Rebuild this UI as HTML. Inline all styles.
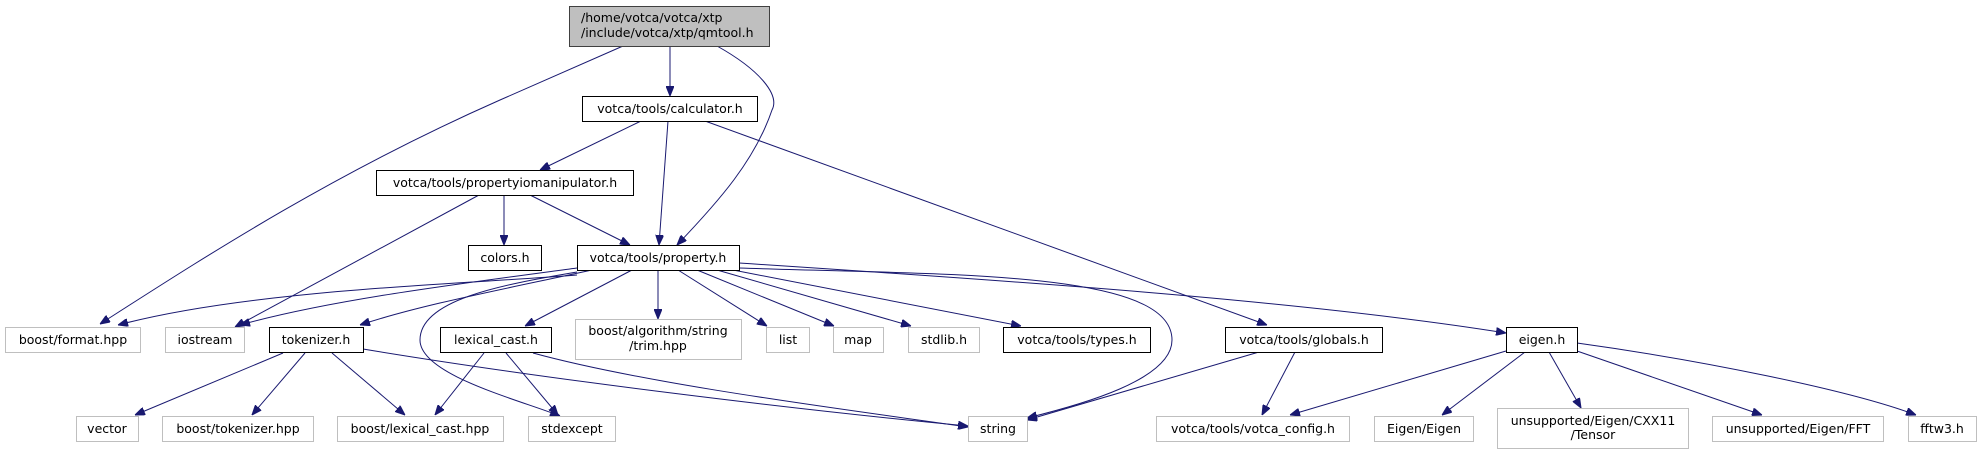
<!DOCTYPE html>
<html><head><meta charset="utf-8"><style>
html,body{margin:0;padding:0;background:#fff;}
svg{display:block;}
text{font-family:"DejaVu Sans","Liberation Sans",sans-serif;font-size:12.5px;fill:#000;text-anchor:middle;}
.e{fill:none;stroke:#191970;stroke-width:1;}
.b{fill:#fff;stroke:#000;stroke-width:1;}
.g{fill:#fff;stroke:#bfbfbf;stroke-width:1;}
</style></head><body>
<svg width="1981" height="455" viewBox="0 0 1981 455" xmlns="http://www.w3.org/2000/svg">
<defs><marker id="a" viewBox="0 0 10 8" refX="10" refY="4" markerWidth="10" markerHeight="8" markerUnits="userSpaceOnUse" orient="auto"><path d="M0,0 L10,4 L0,8 z" fill="#191970" stroke="#191970"/></marker></defs>
<g>
<path class="e" marker-end="url(#a)" d="M623,46 L500,100 C330,175 200,260 100,324"/>
<path class="e" marker-end="url(#a)" d="M670,46 L670,96"/>
<path class="e" marker-end="url(#a)" d="M717,46 C760,70 780,95 772,110 C755,160 720,200 677,245"/>
<path class="e" marker-end="url(#a)" d="M641,121 L540,170"/>
<path class="e" marker-end="url(#a)" d="M668,121 L659,245"/>
<path class="e" marker-end="url(#a)" d="M705,121 L1267,325"/>
<path class="e" marker-end="url(#a)" d="M479,195 L235,327"/>
<path class="e" marker-end="url(#a)" d="M504,195 L504,245"/>
<path class="e" marker-end="url(#a)" d="M530,195 L630,245"/>
<path class="e" marker-end="url(#a)" d="M577,275 C450,285 250,290 118,325"/>
<path class="e" marker-end="url(#a)" d="M577,268 C450,285 330,300 240,325"/>
<path class="e" marker-end="url(#a)" d="M592,270 C500,290 420,305 360,325"/>
<path class="e" marker-end="url(#a)" d="M632,270 L525,326"/>
<path class="e" marker-end="url(#a)" d="M658,270 L658,319"/>
<path class="e" marker-end="url(#a)" d="M678,270 L767,326"/>
<path class="e" marker-end="url(#a)" d="M697,270 L834,326"/>
<path class="e" marker-end="url(#a)" d="M717,270 L911,326"/>
<path class="e" marker-end="url(#a)" d="M733,270 L1021,326"/>
<path class="e" marker-end="url(#a)" d="M739,263 C1000,280 1300,300 1506,333"/>
<path class="e" marker-end="url(#a)" d="M739,268 C950,275 1172,270 1172,340 C1172,380 1080,405 1027,418"/>
<path class="e" marker-end="url(#a)" d="M577,272 C500,285 420,300 420,340 C420,375 520,400 560,416"/>
<path class="e" marker-end="url(#a)" d="M283,353 L135,415"/>
<path class="e" marker-end="url(#a)" d="M305,353 L252,415"/>
<path class="e" marker-end="url(#a)" d="M332,353 L405,415"/>
<path class="e" marker-end="url(#a)" d="M363,349 C550,380 800,410 968,426"/>
<path class="e" marker-end="url(#a)" d="M484,353 L435,415"/>
<path class="e" marker-end="url(#a)" d="M506,353 L558,415"/>
<path class="e" marker-end="url(#a)" d="M533,353 C650,385 850,410 968,427"/>
<path class="e" marker-end="url(#a)" d="M1259,352 L1027,420"/>
<path class="e" marker-end="url(#a)" d="M1295,352 L1262,415"/>
<path class="e" marker-end="url(#a)" d="M1506,351 L1290,415"/>
<path class="e" marker-end="url(#a)" d="M1525,352 L1442,415"/>
<path class="e" marker-end="url(#a)" d="M1549,352 L1581,408"/>
<path class="e" marker-end="url(#a)" d="M1577,351 L1762,415"/>
<path class="e" marker-end="url(#a)" d="M1577,343 C1700,360 1850,390 1916,415"/>
</g>
<rect x="569.5" y="6.5" width="200" height="40" fill="#bfbfbf" stroke="#404040"/>
<text x="581" y="22" style="text-anchor:start">/home/votca/votca/xtp</text>
<text x="581" y="37" style="text-anchor:start">/include/votca/xtp/qmtool.h</text>
<rect class="b" x="582.5" y="96.5" width="175" height="25"/><text x="670" y="113">votca/tools/calculator.h</text>
<rect class="b" x="376.5" y="170.5" width="257" height="25"/><text x="505" y="187">votca/tools/propertyiomanipulator.h</text>
<rect class="b" x="468.5" y="245.5" width="73" height="25"/><text x="505" y="262">colors.h</text>
<rect class="b" x="577.5" y="245.5" width="162" height="25"/><text x="658" y="262">votca/tools/property.h</text>
<rect class="g" x="5.5" y="327.5" width="135" height="25"/><text x="73" y="344">boost/format.hpp</text>
<rect class="g" x="165.5" y="327.5" width="79" height="25"/><text x="205" y="344">iostream</text>
<rect class="b" x="269.5" y="327.5" width="94" height="25"/><text x="316" y="344">tokenizer.h</text>
<rect class="b" x="440.5" y="327.5" width="111" height="25"/><text x="496" y="344">lexical_cast.h</text>
<rect class="g" x="575.5" y="319.5" width="166" height="40"/><text x="658" y="335">boost/algorithm/string</text><text x="658" y="350">/trim.hpp</text>
<rect class="g" x="766.5" y="327.5" width="43" height="25"/><text x="788" y="344">list</text>
<rect class="g" x="833.5" y="327.5" width="50" height="25"/><text x="858" y="344">map</text>
<rect class="g" x="908.5" y="327.5" width="71" height="25"/><text x="944" y="344">stdlib.h</text>
<rect class="b" x="1003.5" y="327.5" width="147" height="25"/><text x="1077" y="344">votca/tools/types.h</text>
<rect class="b" x="1225.5" y="327.5" width="157" height="25"/><text x="1304" y="344">votca/tools/globals.h</text>
<rect class="b" x="1506.5" y="327.5" width="71" height="25"/><text x="1542" y="344">eigen.h</text>
<rect class="g" x="76.5" y="416.5" width="62" height="25"/><text x="107" y="433">vector</text>
<rect class="g" x="162.5" y="416.5" width="151" height="25"/><text x="238" y="433">boost/tokenizer.hpp</text>
<rect class="g" x="337.5" y="416.5" width="166" height="25"/><text x="420" y="433">boost/lexical_cast.hpp</text>
<rect class="g" x="528.5" y="416.5" width="87" height="25"/><text x="572" y="433">stdexcept</text>
<rect class="g" x="968.5" y="416.5" width="59" height="25"/><text x="998" y="433">string</text>
<rect class="g" x="1156.5" y="416.5" width="193" height="25"/><text x="1253" y="433">votca/tools/votca_config.h</text>
<rect class="g" x="1374.5" y="416.5" width="99" height="25"/><text x="1424" y="433">Eigen/Eigen</text>
<rect class="g" x="1497.5" y="408.5" width="191" height="40"/><text x="1593" y="425">unsupported/Eigen/CXX11</text><text x="1593" y="439">/Tensor</text>
<rect class="g" x="1712.5" y="416.5" width="171" height="25"/><text x="1798" y="433">unsupported/Eigen/FFT</text>
<rect class="g" x="1908.5" y="416.5" width="68" height="25"/><text x="1942" y="433">fftw3.h</text>
</svg>
</body></html>
